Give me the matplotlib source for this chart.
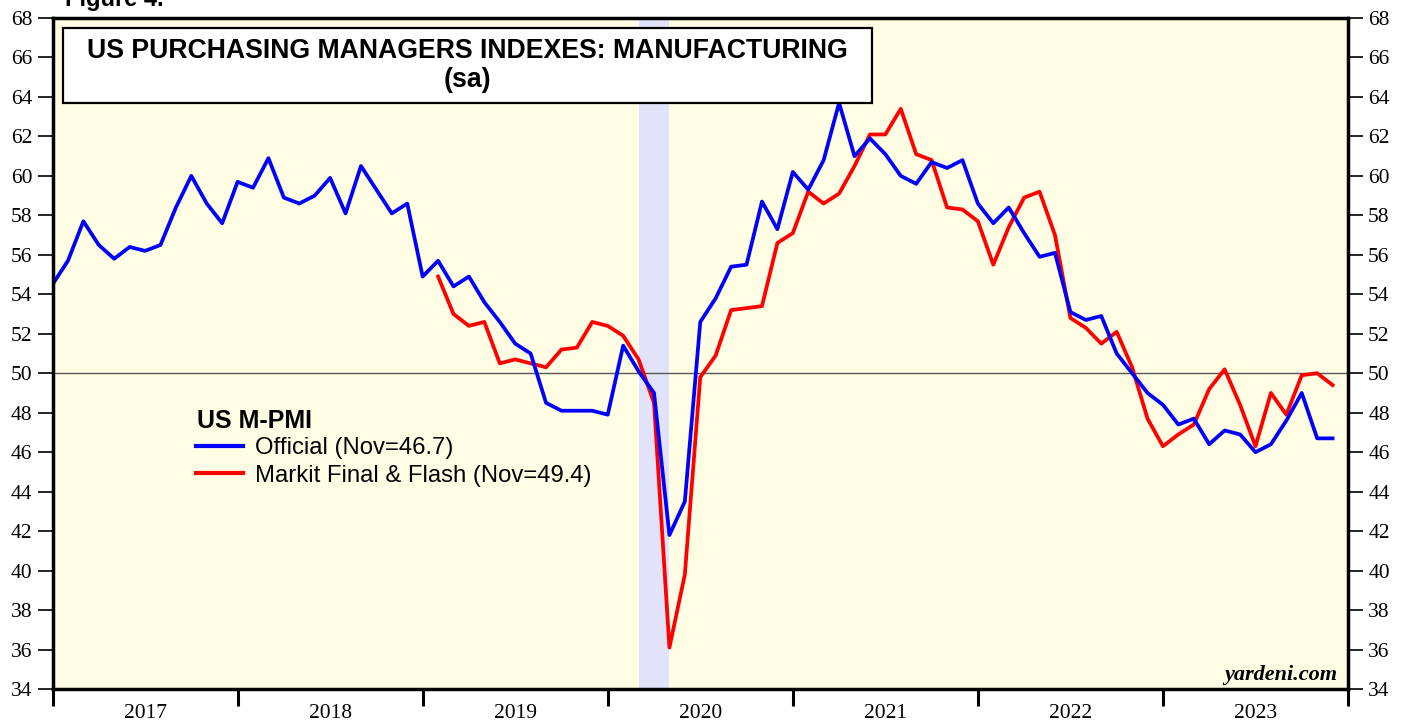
import numpy as np
import pandas as pd
import matplotlib
matplotlib.use("Agg")
import matplotlib.pyplot as plt
from matplotlib.patches import Rectangle
from matplotlib.lines import Line2D

# monthly data, Dec 2016 .. Nov 2023
months = pd.period_range("2016-12", "2023-11", freq="M")

official = [54.5, 55.7, 57.7, 56.5, 55.8, 56.4, 56.2, 56.5, 58.4, 60.0, 58.6, 57.6,
            59.7, 59.4, 60.9, 58.9, 58.6, 59.0, 59.9, 58.1, 60.5, 59.3, 58.1, 58.6,
            54.9, 55.7, 54.4, 54.9, 53.6, 52.6, 51.5, 51.0, 48.5, 48.1, 48.1, 48.1,
            47.9, 51.4, 50.1, 49.0, 41.8, 43.5, 52.6, 53.8, 55.4, 55.5, 58.7, 57.3,
            60.2, 59.3, 60.8, 63.7, 61.0, 61.9, 61.1, 60.0, 59.6, 60.7, 60.4, 60.8,
            58.6, 57.6, 58.4, 57.1, 55.9, 56.1, 53.1, 52.7, 52.9, 51.0, 50.0, 49.0,
            48.4, 47.4, 47.7, 46.4, 47.1, 46.9, 46.0, 46.4, 47.6, 49.0, 46.7, 46.7]

# Markit starts Jan 2019
markit_start = "2019-01"
markit = [54.9, 53.0, 52.4, 52.6, 50.5, 50.7, 50.5, 50.3, 51.2, 51.3,
          52.6, 52.4, 51.9, 50.7, 48.5, 36.1, 39.8, 49.8, 50.9, 53.2,
          53.3, 53.4, 56.6, 57.1, 59.2, 58.6, 59.1, 60.5, 62.1, 62.1,
          63.4, 61.1, 60.8, 58.4, 58.3, 57.7, 55.5, 57.4, 58.9, 59.2,
          57.0, 52.8, 52.3, 51.5, 52.1, 50.3, 47.7, 46.3, 46.9, 47.4,
          49.2, 50.2, 48.4, 46.3, 49.0, 47.9, 49.9, 50.0, 49.4]

years = [2017, 2018, 2019, 2020, 2021, 2022, 2023]
recession = (2020 + 2 / 12, 2020 + 4 / 12)

# month plotted at its end
x_off = np.array(months.year + months.month / 12.0)
m_months = pd.period_range(markit_start, periods=len(markit), freq="M")
x_mk = np.array(m_months.year + m_months.month / 12.0)

sans = ["Liberation Sans", "DejaVu Sans"]
serif = ["Liberation Serif", "DejaVu Serif"]
BLUE, RED = "#0000ff", "#ff0000"

fig = plt.figure(figsize=(14.08, 7.21), dpi=100)
ax = fig.add_axes([0.0373, 0.0444, 0.9201, 0.9306])
ax.set_facecolor("#fffde4")

ax.axvspan(*recession, color="#e2e2fa", lw=0, zorder=1)
ax.axhline(50, color="#555555", lw=1.0, zorder=2)

ax.plot(x_off, official, color=BLUE, lw=2.7, zorder=4)
ax.plot(x_mk, markit, color=RED, lw=2.7, zorder=3)

ax.set_xlim(2017, 2024)
ax.set_ylim(34, 68)

ax.set_yticks(np.arange(34, 69, 2))
ax.tick_params(axis="y", which="both", direction="out", length=10.5, width=1.2,
               left=True, right=True, labelleft=True, labelright=True,
               labelsize=15.5, pad=4)
for t in ax.yaxis.get_major_ticks():
    t.label1.set_family(serif)
    t.label2.set_family(serif)

ax.set_xticks(range(2017, 2025))
ax.set_xticklabels([])
ax.set_xticks([y + 0.5 for y in years], minor=True)
ax.set_xticklabels([str(y) for y in years], minor=True, family=serif, fontsize=15.5)
ax.tick_params(axis="x", which="major", direction="out", length=12.5, width=2.2)
ax.tick_params(axis="x", which="minor", length=0, pad=10.5)

for side in ["left", "right", "bottom", "top"]:
    ax.spines[side].set_linewidth(2.5)
    ax.spines[side].set_zorder(6)

# title box
ax.add_patch(Rectangle((0.0081, 0.873), 0.6247, 0.112, transform=ax.transAxes,
                       fc="white", ec="black", lw=1.6, zorder=8))
ax.text(0.32, 0.951, "US PURCHASING MANAGERS INDEXES: MANUFACTURING",
        transform=ax.transAxes, ha="center", va="center", family=sans,
        fontsize=19.2, fontweight="bold", zorder=9)
ax.text(0.32, 0.908, "(sa)", transform=ax.transAxes, ha="center", va="center",
        family=sans, fontsize=19.2, fontweight="bold", zorder=9)

# legend
ax.text(0.1115, 0.400, "US M-PMI", transform=ax.transAxes, family=sans,
        fontsize=18, fontweight="bold", va="center", ha="left")
handles = [Line2D([], [], color=BLUE, lw=3), Line2D([], [], color=RED, lw=3)]
ax.legend(handles, ["Official (Nov=46.7)", "Markit Final & Flash (Nov=49.4)"],
          loc="upper left", bbox_to_anchor=(0.1105, 0.375), frameon=False,
          prop={"family": sans, "size": 17.2}, handlelength=2.0,
          handletextpad=0.5, labelspacing=0.22, borderaxespad=0, borderpad=0)

ax.text(0.992, 0.006, "yardeni.com", transform=ax.transAxes, ha="right",
        va="bottom", family=serif, fontsize=16, fontweight="bold",
        style="italic")

fig.text(0.046, 0.992, "Figure 4.", family=sans, fontsize=17, fontweight="bold",
         ha="left", va="baseline")

fig.savefig("out.png", dpi=100, facecolor="white")
